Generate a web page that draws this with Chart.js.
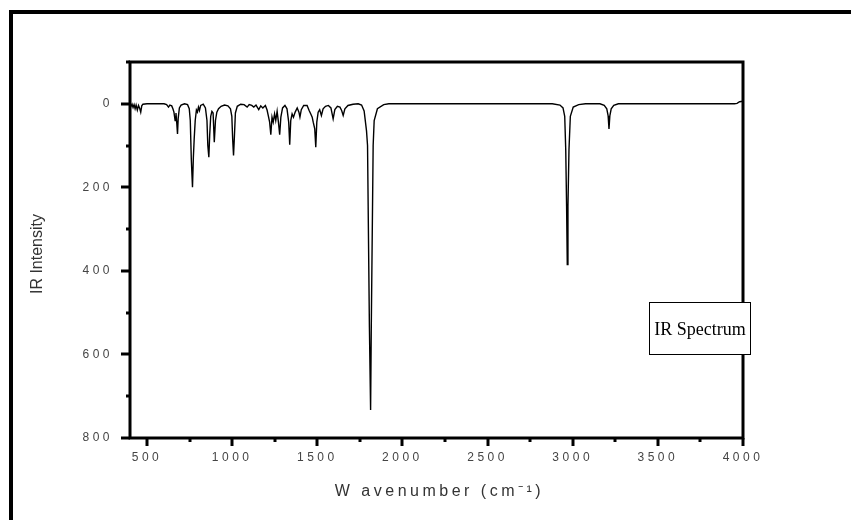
<!DOCTYPE html>
<html>
<head>
<meta charset="utf-8">
<script src="https://cdn.jsdelivr.net/npm/chart.js@4.4.1/dist/chart.umd.min.js"></script>
<style>
  html, body { margin: 0; padding: 0; background: #fff; }
  #wrap { position: relative; width: 851px; height: 520px; overflow: hidden; }
  #frame { position: absolute; left: 9px; top: 10px; width: 900px; height: 600px; border-left: 4px solid #000; border-top: 4px solid #000; }
  #irChart { position: absolute; left: 0; top: 0; }
</style>
</head>
<body>
<div id="wrap">
  <div id="frame"></div>
  <canvas id="irChart" width="851" height="520"></canvas>
</div>
<script>
// spectrum: wavenumber (cm-1) and IR intensity
const wavenumbers = [
  400, 406, 412, 418, 424, 430, 436, 443, 450, 457, 463, 469, 476, 500,
  600, 615, 626, 634, 645, 652, 658, 665, 670, 675, 679, 683, 690, 700, 720,
  738, 748, 754, 760, 767, 772, 777, 783, 790, 796, 802, 808, 815, 830,
  843, 852, 857, 863, 868, 874, 881, 888, 895, 902, 910, 920, 935, 955, 975,
  990, 998, 1003, 1008, 1013, 1019, 1030, 1050,
  1070, 1088, 1100, 1115, 1127, 1140, 1156, 1168, 1180, 1195,
  1205, 1213, 1220, 1227, 1234, 1241, 1249, 1256, 1264, 1272, 1279, 1286, 1296, 1310,
  1322, 1332, 1338, 1344, 1352, 1360, 1370, 1382, 1392, 1398, 1406, 1420,
  1440, 1452, 1461, 1470, 1476, 1485, 1491, 1497, 1505, 1514, 1524, 1534, 1548, 1565,
  1580, 1593, 1603, 1618, 1633, 1643, 1652, 1662, 1680, 1710, 1740,
  1760, 1775, 1789, 1795, 1806, 1813, 1817, 1828, 1834, 1853, 1890, 1920,
  2880, 2925, 2943, 2953, 2959, 2964, 2968, 2972, 2978, 2986, 3003, 3035, 3075,
  3160, 3185, 3200, 3208, 3213, 3218, 3226, 3241, 3268,
  3950, 3965, 3980, 4000
];
const intensities = [
  0, 6, 1, 9, 2, 12, 3, 15, 4, 11, 20, 5, 1, 0,
  0, 2, 8, 3, 5, 12, 20, 40, 22, 48, 72, 35, 10, 3, 0,
  2, 12, 40, 132, 200, 130, 84, 40, 15, 20, 8, 16, 4, 1,
  10, 40, 100, 128, 75, 30, 18, 22, 92, 40, 20, 12, 6, 3, 5,
  12, 30, 85, 124, 80, 22, 6, 1,
  2, 8, 2, 4, 8, 3, 14, 5, 10, 4,
  15, 30, 44, 74, 32, 44, 24, 40, 18, 45, 74, 32, 10, 4,
  12, 44, 98, 40, 24, 32, 20, 10, 20, 32, 14, 4,
  4, 16, 24, 32, 44, 60, 104, 44, 20, 14, 28, 12, 6, 4,
  10, 36, 14, 6, 8, 16, 28, 12, 4, 1, 0,
  3, 17, 65, 100, 535, 733, 535, 100, 40, 12, 2, 0,
  0, 3, 10, 30, 110, 245, 385, 245, 110, 30, 8, 2, 0,
  0, 4, 12, 29, 60, 29, 12, 4, 0,
  0, -1, -5, -6
];

const xMajorTicks = [500, 1000, 1500, 2000, 2500, 3000, 3500, 4000];
const xMinorTicks = [750, 1250, 1750, 2250, 2750, 3250, 3750];
const yMajorTicks = [0, 200, 400, 600, 800];
const yMinorTicks = [-100, 100, 300, 500, 700];

const xTitle = "W avenumber (cm\u207B\u00B9)";
const yTitle = "IR Intensity";
const boxLabel = "IR Spectrum";

const spectrumPoints = wavenumbers.map((w, i) => ({ x: w, y: intensities[i] }));

const axisDecor = {
  id: "axisDecor",
  beforeDraw: (chart) => {
    chart.ctx.letterSpacing = "3.5px";
  },
  afterDraw: (chart) => {
    const ctx = chart.ctx;
    const area = chart.chartArea;
    const xScale = chart.scales.x;
    const yScale = chart.scales.y;
    ctx.save();
    ctx.letterSpacing = "0px";
    ctx.strokeStyle = "#000";

    // plot frame
    ctx.lineWidth = 3;
    ctx.strokeRect(area.left, area.top, area.right - area.left, area.bottom - area.top);

    // outward tick marks
    const tickX = (values, len, width) => {
      ctx.lineWidth = width;
      values.forEach((v) => {
        const px = Math.round(xScale.getPixelForValue(v));
        ctx.beginPath();
        ctx.moveTo(px, area.bottom);
        ctx.lineTo(px, area.bottom + len);
        ctx.stroke();
      });
    };
    const tickY = (values, len, width) => {
      ctx.lineWidth = width;
      values.forEach((v) => {
        const py = Math.round(yScale.getPixelForValue(v));
        ctx.beginPath();
        ctx.moveTo(area.left, py);
        ctx.lineTo(area.left - len, py);
        ctx.stroke();
      });
    };
    tickX(xMajorTicks, 8, 3);
    tickX(xMinorTicks, 4, 3);
    tickY(yMajorTicks, 9, 3);
    tickY(yMinorTicks, 4, 3);

    // axis titles
    ctx.fillStyle = "#333";
    ctx.textAlign = "center";
    ctx.textBaseline = "middle";
    ctx.font = '16px "Liberation Sans", Arial, sans-serif';
    ctx.letterSpacing = "3.5px";
    ctx.fillText(xTitle, (area.left + area.right) / 2 + 3, 492);
    ctx.letterSpacing = "0px";
    ctx.translate(38, (area.top + area.bottom) / 2 + 4);
    ctx.rotate(-Math.PI / 2);
    ctx.fillText(yTitle, 0, 0);
    ctx.restore();

    // label box
    ctx.save();
    ctx.letterSpacing = "0px";
    ctx.fillStyle = "#fff";
    ctx.fillRect(649, 302, 102, 53);
    ctx.strokeStyle = "#000";
    ctx.lineWidth = 1;
    ctx.strokeRect(649.5, 302.5, 101, 52);
    ctx.fillStyle = "#000";
    ctx.font = '18px "Liberation Serif", "Times New Roman", serif';
    ctx.textAlign = "center";
    ctx.textBaseline = "middle";
    ctx.fillText(boxLabel, 700, 330);
    ctx.restore();
  },
};

const tickFont = { family: '"Liberation Sans", Arial, sans-serif', size: 12 };

const initiateChart = () => {
  const ctx = document.getElementById("irChart");
  const Config = {
    type: "line",
    data: {
      datasets: [
        {
          label: "IR Spectrum",
          data: spectrumPoints,
          borderColor: "#000",
          borderWidth: 1.4,
          pointRadius: 0,
          tension: 0,
          fill: false,
        },
      ],
    },
    options: {
      responsive: false,
      animation: false,
      layout: { padding: { left: 0, right: 108, top: 62, bottom: 0 } },
      plugins: { legend: { display: false }, tooltip: { enabled: false } },
      scales: {
        x: {
          type: "linear",
          min: 400,
          max: 4000,
          afterBuildTicks: (scale) => {
            scale.ticks = xMajorTicks.map((v) => ({ value: v }));
          },
          afterFit: (scale) => {
            scale.height = 82;
          },
          grid: { display: false, drawTicks: false },
          border: { display: false },
          ticks: {
            autoSkip: false,
            maxRotation: 0,
            padding: 12,
            color: "#444",
            font: tickFont,
            callback: (value) => String(value),
          },
        },
        y: {
          type: "linear",
          reverse: true,
          min: -100,
          max: 800,
          afterBuildTicks: (scale) => {
            scale.ticks = yMajorTicks.map((v) => ({ value: v }));
          },
          afterFit: (scale) => {
            scale.width = 130;
          },
          grid: { display: false, drawTicks: false },
          border: { display: false },
          ticks: {
            autoSkip: false,
            padding: 17,
            color: "#444",
            font: tickFont,
            callback: (value) => String(value),
          },
        },
      },
    },
    plugins: [axisDecor],
  };
  const irChart = new Chart(ctx, Config);
};

initiateChart();
</script>
</body>
</html>
